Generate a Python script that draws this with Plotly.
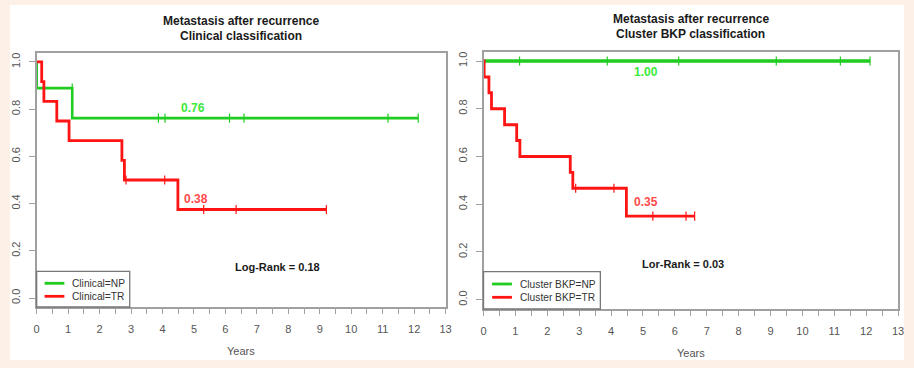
import plotly.graph_objects as go

W, H = 914, 368

# ---------------- data ----------------
# Left panel: Clinical classification
clin_np_time = [0.0, 0.0, 1.13, 12.13]
clin_np_surv = [1.0, 0.889, 0.762, 0.762]
clin_np_cens_time = [1.13, 3.87, 4.08, 6.13, 6.59, 11.17, 12.13]
clin_np_cens_surv = [0.889, 0.762, 0.762, 0.762, 0.762, 0.762, 0.762]

clin_tr_time = [0.0, 0.16, 0.23, 0.64, 1.03, 2.71, 2.79, 4.49, 9.21]
clin_tr_surv = [1.0, 0.917, 0.833, 0.75, 0.667, 0.583, 0.5, 0.375, 0.375]
clin_tr_cens_time = [2.84, 4.07, 5.31, 6.34, 9.21]
clin_tr_cens_surv = [0.5, 0.5, 0.375, 0.375, 0.375]

# Right panel: Cluster BKP classification
bkp_np_time = [0.0, 12.12]
bkp_np_surv = [1.0, 1.0]
bkp_np_cens_time = [1.13, 3.88, 6.12, 9.18, 11.19, 12.12]
bkp_np_cens_surv = [1.0, 1.0, 1.0, 1.0, 1.0, 1.0]

bkp_tr_time = [0.0, 0.02, 0.17, 0.25, 0.66, 1.04, 1.14, 2.72, 2.80, 4.48, 6.62]
bkp_tr_surv = [1.0, 0.933, 0.867, 0.80, 0.733, 0.667, 0.60, 0.533, 0.467, 0.35, 0.35]
bkp_tr_cens_time = [2.89, 4.09, 5.31, 6.35, 6.62]
bkp_tr_cens_surv = [0.467, 0.467, 0.35, 0.35, 0.35]

titles = [["Metastasis after recurrence", "Clinical classification"],
          ["Metastasis after recurrence", "Cluster BKP classification"]]
legend_labels = [["Clinical=NP", "Clinical=TR"], ["Cluster BKP=NP", "Cluster BKP=TR"]]
final_labels = [[("0.76", 4.96, 0.804), ("0.38", 5.07, 0.418)],
                [("1.00", 5.11, 0.955), ("0.35", 5.08, 0.408)]]
test_labels = [("Log-Rank = 0.18", 7.66, 0.130), ("Lor-Rank = 0.03", 6.27, 0.151)]
x_ticks = list(range(0, 14))
y_ticks = [0.0, 0.2, 0.4, 0.6, 0.8, 1.0]
y_tick_text = ["0.0", "0.2", "0.4", "0.6", "0.8", "1.0"]

# ---------------- styling ----------------
GREEN = "#1fcc1f"
GREEN_TXT = "#3aea3a"
RED = "#ff1414"
RED_TXT = "#ff4a4a"
GRAY = "#a0a0a0"
TICKTXT = "#555555"
FONT = "Liberation Sans, Arial, sans-serif"

def px(x):
    return x / W

def py(y):
    return 1 - y / H

fig = go.Figure()

panels = [
    dict(xa="x", ya="y", xd=[px(34), px(447)], yd=[py(307), py(53)], yr=[-0.038, 1.038],
         np=(clin_np_time, clin_np_surv, clin_np_cens_time, clin_np_cens_surv, 2.6),
         tr=(clin_tr_time, clin_tr_surv, clin_tr_cens_time, clin_tr_cens_surv, 2.8),
         title_x=240.5, title_y=(21, 36), years=(240.7, 351),
         leg=dict(box=(34, 271.3, 128, 307), lx=(42, 62), ly=(283.3, 296.3), tx=68)),
    dict(xa="x2", ya="y2", xd=[px(485.3), px(904)], yd=[py(309), py(51.7)], yr=[-0.039, 1.039],
         np=(bkp_np_time, bkp_np_surv, bkp_np_cens_time, bkp_np_cens_surv, 3.6),
         tr=(bkp_tr_time, bkp_tr_surv, bkp_tr_cens_time, bkp_tr_cens_surv, 2.8),
         title_x=694.6, title_y=(19, 34), years=(694.7, 353),
         leg=dict(box=(485.3, 271.7, 603.3, 309), lx=(494, 514), ly=(284, 297.3), tx=520.3)),
]

shapes = []
annotations = []

# white card on peach background
shapes.append(dict(type="rect", xref="paper", yref="paper", x0=px(7), x1=px(910), y0=py(360), y1=py(5),
                   fillcolor="white", line=dict(width=0), layer="below"))

for i, p in enumerate(panels):
    for (t, s, ct, cs, lw), col in ((p["np"], GREEN), (p["tr"], RED)):
        fig.add_trace(go.Scatter(x=t, y=s, mode="lines", line=dict(color=col, width=lw, shape="hv"),
                                 xaxis=p["xa"], yaxis=p["ya"], showlegend=False, hoverinfo="skip"))
        fig.add_trace(go.Scatter(x=ct, y=cs, mode="markers",
                                 marker=dict(symbol="line-ns", size=6.5, line=dict(color=col, width=1.2)),
                                 xaxis=p["xa"], yaxis=p["ya"], showlegend=False, hoverinfo="skip"))
    # titles
    for line, ty in zip(titles[i], p["title_y"]):
        annotations.append(dict(text="<b>%s</b>" % line, xref="paper", yref="paper",
                                x=px(p["title_x"]), y=py(ty), showarrow=False,
                                font=dict(family=FONT, size=12, color="#1a1a1a"),
                                xanchor="center", yanchor="middle"))
    # x title
    annotations.append(dict(text="Years", xref="paper", yref="paper", x=px(p["years"][0]), y=py(p["years"][1]),
                            showarrow=False, font=dict(family=FONT, size=11, color=TICKTXT),
                            xanchor="center", yanchor="middle"))
    # final survival labels
    for (txt, xx, yy), col in zip(final_labels[i], (GREEN_TXT, RED_TXT)):
        annotations.append(dict(text="<b>%s</b>" % txt, xref=p["xa"], yref=p["ya"], x=xx, y=yy,
                                showarrow=False, font=dict(family=FONT, size=12, color=col),
                                xanchor="center", yanchor="middle"))
    txt, xx, yy = test_labels[i]
    annotations.append(dict(text="<b>%s</b>" % txt, xref=p["xa"], yref=p["ya"], x=xx, y=yy,
                            showarrow=False, font=dict(family=FONT, size=11, color="#1a1a1a"),
                            xanchor="center", yanchor="middle"))
    # legend box
    lg = p["leg"]
    bx0, by0, bx1, by1 = lg["box"]
    shapes.append(dict(type="rect", xref="paper", yref="paper", x0=px(bx0), x1=px(bx1), y0=py(by1), y1=py(by0),
                       fillcolor="white", line=dict(color="#777777", width=1.3)))
    for lab, col, ly in zip(legend_labels[i], (GREEN, RED), lg["ly"]):
        shapes.append(dict(type="line", xref="paper", yref="paper", x0=px(lg["lx"][0]), x1=px(lg["lx"][1]),
                           y0=py(ly), y1=py(ly), line=dict(color=col, width=2.8)))
        annotations.append(dict(text=lab, xref="paper", yref="paper", x=px(lg["tx"]), y=py(ly),
                                showarrow=False, font=dict(family=FONT, size=10.2, color="#333333"),
                                xanchor="left", yanchor="middle"))

axis_common_x = dict(range=[0, 13], tickmode="array", tickvals=x_ticks, ticktext=[str(v) for v in x_ticks],
                     ticks="outside", ticklen=5, tickwidth=1.2, tickcolor=GRAY,
                     showline=True, linecolor=GRAY, linewidth=2, mirror=True, showgrid=False, zeroline=False,
                     tickfont=dict(family=FONT, size=11, color=TICKTXT),
                     minor=dict(tickmode="array", tickvals=[v + 0.5 for v in x_ticks[:-1]],
                                ticks="outside", ticklen=5, tickwidth=1.2, tickcolor=GRAY, showgrid=False),
                     ticklabelstandoff=6)
axis_common_y = dict(tickmode="array", tickvals=y_ticks, ticktext=y_tick_text,
                     ticks="outside", ticklen=6, tickwidth=1.2, tickcolor=GRAY,
                     showline=True, linecolor=GRAY, linewidth=2, mirror=True, showgrid=False, zeroline=False,
                     tickfont=dict(family=FONT, size=11, color=TICKTXT), tickangle=-90,
                     ticklabelstandoff=4)

layout = dict(width=W, height=H, margin=dict(l=0, r=0, t=0, b=0),
              paper_bgcolor="#fdf0e6", plot_bgcolor="white", showlegend=False,
              shapes=shapes, annotations=annotations)
for i, p in enumerate(panels):
    sfx = "" if i == 0 else "2"
    layout["xaxis" + sfx] = dict(axis_common_x, domain=p["xd"], anchor="y" + sfx)
    layout["yaxis" + sfx] = dict(axis_common_y, domain=p["yd"], range=p["yr"], anchor="x" + sfx)

fig.update_layout(**layout)
fig.write_html("out.html")
